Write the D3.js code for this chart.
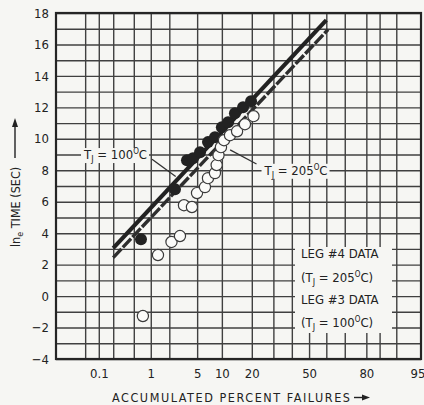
<!DOCTYPE html>
<html>
<head>
<meta charset="utf-8">
<script src="https://cdn.jsdelivr.net/npm/d3@7/dist/d3.min.js"></script>
<style>
  body { margin: 0; background: #f6f6f3; }
  svg { display: block; }
  text { font-family: "Liberation Sans Narrow", "DejaVu Sans Condensed", "Roboto Condensed", sans-serif; fill: #222; }
</style>
</head>
<body>
<svg id="chart"></svg>
<script>
// accumulated percent failures (x) and ln time in sec (y)
const leg4Pct = [0.675, 2.44, 3.64, 4.4, 5.45, 6.87, 8.33, 10.0, 11.7, 13.8, 16.6, 19.7];
const leg4Ln  = [3.62, 6.8, 8.64, 8.77, 9.15, 9.79, 10.1, 10.74, 11.06, 11.63, 12.0, 12.39];

const leg3Pct = [0.73, 1.32, 2.16, 2.89, 3.3, 4.26, 4.98, 6.3, 6.87, 8.33, 8.72, 9.16, 9.77, 10.56, 12.26, 14.5, 17.3, 20.7];
const leg3Ln  = [-1.27, 2.61, 3.44, 3.82, 5.78, 5.66, 6.55, 6.93, 7.5, 7.82, 8.33, 8.96, 9.47, 9.91, 10.23, 10.48, 10.93, 11.44];

// fitted lines, two end points each
const fit100Pct = [0.2, 60];
const fit100Ln  = [3.05, 17.55];
const fit205Pct = [0.2, 61];
const fit205Ln  = [2.45, 16.95];

const xTicks = [0.1, 1, 5, 10, 20, 50, 80, 95];
const xGrid = [0.05, 0.1, 0.2, 0.5, 1, 2, 5, 10, 20, 30, 40, 50, 60, 70, 80, 85, 90];
const yTicks = [-4, -2, 0, 2, 4, 6, 8, 10, 12, 14, 16, 18];
const yGrid = d3.range(-4, 19);

const width = 424, height = 405;
const margin = { top: 13, left: 56, right: 3, bottom: 46 };
const w = width - margin.left - margin.right;
const h = height - margin.top - margin.bottom;

// inverse normal cdf (Acklam)
function probit(p) {
  const a = [-3.969683028665376e+01, 2.209460984245205e+02, -2.759285104469687e+02, 1.383577518672690e+02, -3.066479806614716e+01, 2.506628277459239e+00];
  const b = [-5.447609879822406e+01, 1.615858368580409e+02, -1.556989798598866e+02, 6.680131188771972e+01, -1.328068155288572e+01];
  const c = [-7.784894002430293e-03, -3.223964580411365e-01, -2.400758277161838e+00, -2.549732539343734e+00, 4.374664141464968e+00, 2.938163982698783e+00];
  const d = [7.784695709041462e-03, 3.224671290700398e-01, 2.445134137142996e+00, 3.754408661907416e+00];
  const pl = 0.02425;
  let q, r;
  if (p < pl) {
    q = Math.sqrt(-2 * Math.log(p));
    return (((((c[0]*q+c[1])*q+c[2])*q+c[3])*q+c[4])*q+c[5]) / ((((d[0]*q+d[1])*q+d[2])*q+d[3])*q+1);
  }
  if (p > 1 - pl) {
    q = Math.sqrt(-2 * Math.log(1 - p));
    return -(((((c[0]*q+c[1])*q+c[2])*q+c[3])*q+c[4])*q+c[5]) / ((((d[0]*q+d[1])*q+d[2])*q+d[3])*q+1);
  }
  q = p - 0.5; r = q * q;
  return (((((a[0]*r+a[1])*r+a[2])*r+a[3])*r+a[4])*r+a[5])*q / (((((b[0]*r+b[1])*r+b[2])*r+b[3])*r+b[4])*r+1);
}

const zScale = d3.scaleLinear().domain([probit(0.0001), probit(0.95)]).range([0, w]);
const x = pct => zScale(probit(pct / 100));
const y = d3.scaleLinear().domain([-4, 18]).range([h, 0]);

const svg = d3.select("#chart").attr("width", width).attr("height", height);
const g = svg.append("g").attr("transform", `translate(${margin.left},${margin.top})`);

// grid
g.append("g")
  .attr("class", "xgrid")
  .attr("transform", `translate(0,${h})`)
  .call(d3.axisBottom(zScale).tickValues(xGrid.map(p => probit(p / 100))).tickSize(-h).tickFormat(""));
g.append("g")
  .attr("class", "ygrid")
  .call(d3.axisLeft(y).tickValues(yGrid).tickSize(-w).tickFormat(""));
g.selectAll(".xgrid line, .ygrid line").attr("stroke", "#404040").attr("stroke-width", 1.4);
g.selectAll(".xgrid .domain, .ygrid .domain").remove();

// legend box covers the grid
const lg = g.append("g").attr("transform", "translate(239,234)");
lg.append("rect").attr("width", 97).attr("height", 86).attr("fill", "#f6f6f3");

// frame
g.append("rect").attr("width", w).attr("height", h)
  .attr("fill", "none").attr("stroke", "#252525").attr("stroke-width", 2.2);

// axes labels
const xAxis = g.append("g")
  .attr("transform", `translate(0,${h})`)
  .call(d3.axisBottom(zScale).tickValues(xTicks.map(p => probit(p / 100)))
    .tickFormat((d, i) => xTicks[i]).tickSize(0).tickPadding(10));
const yAxis = g.append("g")
  .call(d3.axisLeft(y).tickValues(yTicks).tickSize(0).tickPadding(7)
    .tickFormat(d => d < 0 ? "\u2212" + Math.abs(d) : d));
[xAxis, yAxis].forEach(a => {
  a.select(".domain").remove();
  a.selectAll("text").attr("font-size", 13).attr("fill", "#222")
    .style("font-family", "'Liberation Sans Narrow', 'DejaVu Sans Condensed', sans-serif");
});
// last label sits against the right edge
xAxis.selectAll("text").filter((d, i) => i === xTicks.length - 1)
  .attr("text-anchor", "end").attr("dx", 4);

// fitted lines
const line = d3.line().x(d => x(d[0])).y(d => y(d[1]));
g.append("path")
  .datum(d3.zip(fit100Pct, fit100Ln))
  .attr("d", line).attr("fill", "none")
  .attr("stroke", "#222").attr("stroke-width", 4.2);
g.append("path")
  .datum(d3.zip(fit205Pct, fit205Ln))
  .attr("d", line).attr("fill", "none")
  .attr("stroke", "#2e2e2e").attr("stroke-width", 3.4)
  .attr("stroke-dasharray", "12,2");

// leg #4 data, filled
g.selectAll(".leg4")
  .data(d3.zip(leg4Pct, leg4Ln))
  .enter()
  .append("circle")
  .attr("class", "leg4")
  .attr("cx", d => x(d[0]))
  .attr("cy", d => y(d[1]))
  .attr("r", 6)
  .attr("fill", "#222");

// leg #3 data, open
g.selectAll(".leg3")
  .data(d3.zip(leg3Pct, leg3Ln))
  .enter()
  .append("circle")
  .attr("class", "leg3")
  .attr("cx", d => x(d[0]))
  .attr("cy", d => y(d[1]))
  .attr("r", 5.6)
  .attr("fill", "#fbfbf9")
  .attr("stroke", "#3a3a3a")
  .attr("stroke-width", 1.2);

function tj(sel, temp, paren) {
  sel.append("tspan").text((paren ? "(" : "") + "T");
  sel.append("tspan").attr("dy", 3).attr("font-size", "0.7em").text("J");
  sel.append("tspan").attr("dy", -3).text(" = " + temp);
  sel.append("tspan").attr("dy", -5).attr("font-size", "0.62em").text("O");
  sel.append("tspan").attr("dy", 5).text("C" + (paren ? ")" : ""));
}

// callouts
const callouts = [
  { temp: 100, from: [1.05, 8.7], to: [2.5, 7.6], gridV: 9, side: "end" },
  { temp: 205, from: [22, 8.4], to: [12.3, 9.3], gridV: 8, side: "start" }
];
callouts.forEach(c => {
  g.append("line")
    .attr("x1", x(c.from[0])).attr("y1", y(c.from[1]))
    .attr("x2", x(c.to[0])).attr("y2", y(c.to[1]))
    .attr("stroke", "#333").attr("stroke-width", 1.3);
  const tx = c.side === "end" ? x(c.from[0]) - 5 : x(c.from[0]) + 8;
  const t = g.append("text")
    .attr("x", tx).attr("y", y(c.gridV) + 4.5)
    .attr("font-size", 13)
    .attr("text-anchor", c.side);
  tj(t, c.temp, false);
  const bb = t.node().getBBox();
  g.insert("rect", () => t.node())
    .attr("x", bb.x - 2).attr("y", bb.y + 1).attr("width", bb.width + 4).attr("height", bb.height - 2)
    .attr("fill", "#f6f6f3");
});

// legend texts
const legRows = [
  { text: "LEG #4 DATA" },
  { temp: 205 },
  { text: "LEG #3 DATA" },
  { temp: 100 }
];
const rowY = [10.5, 34.5, 56.5, 79.5];
legRows.forEach((r, i) => {
  const t = lg.append("text").attr("x", 6).attr("y", rowY[i]).attr("font-size", 13);
  if (r.text) t.text(r.text); else tj(t, r.temp, true);
});

// axis titles
svg.append("text")
  .attr("x", 112).attr("y", 402)
  .attr("font-size", 12.5)
  .attr("textLength", 238).attr("lengthAdjust", "spacing")
  .text("ACCUMULATED PERCENT FAILURES");
svg.append("line").attr("x1", 354).attr("y1", 397.5).attr("x2", 364).attr("y2", 397.5)
  .attr("stroke", "#222").attr("stroke-width", 1.4);
svg.append("path").attr("d", "M362,394.5L370,397.5L362,400.5Z").attr("fill", "#222");

const yt = svg.append("text")
  .attr("transform", "translate(19.5,247) rotate(-90)")
  .attr("font-size", 12.5);
yt.append("tspan").text("ln");
yt.append("tspan").attr("dy", 3).attr("font-size", "0.7em").text("e");
yt.append("tspan").attr("dy", -3).text(" TIME (SEC)");
svg.append("line").attr("x1", 15).attr("y1", 158).attr("x2", 15).attr("y2", 126)
  .attr("stroke", "#222").attr("stroke-width", 1.4);
svg.append("path").attr("d", "M12,127L15,118L18,127Z").attr("fill", "#222");
</script>
</body>
</html>
